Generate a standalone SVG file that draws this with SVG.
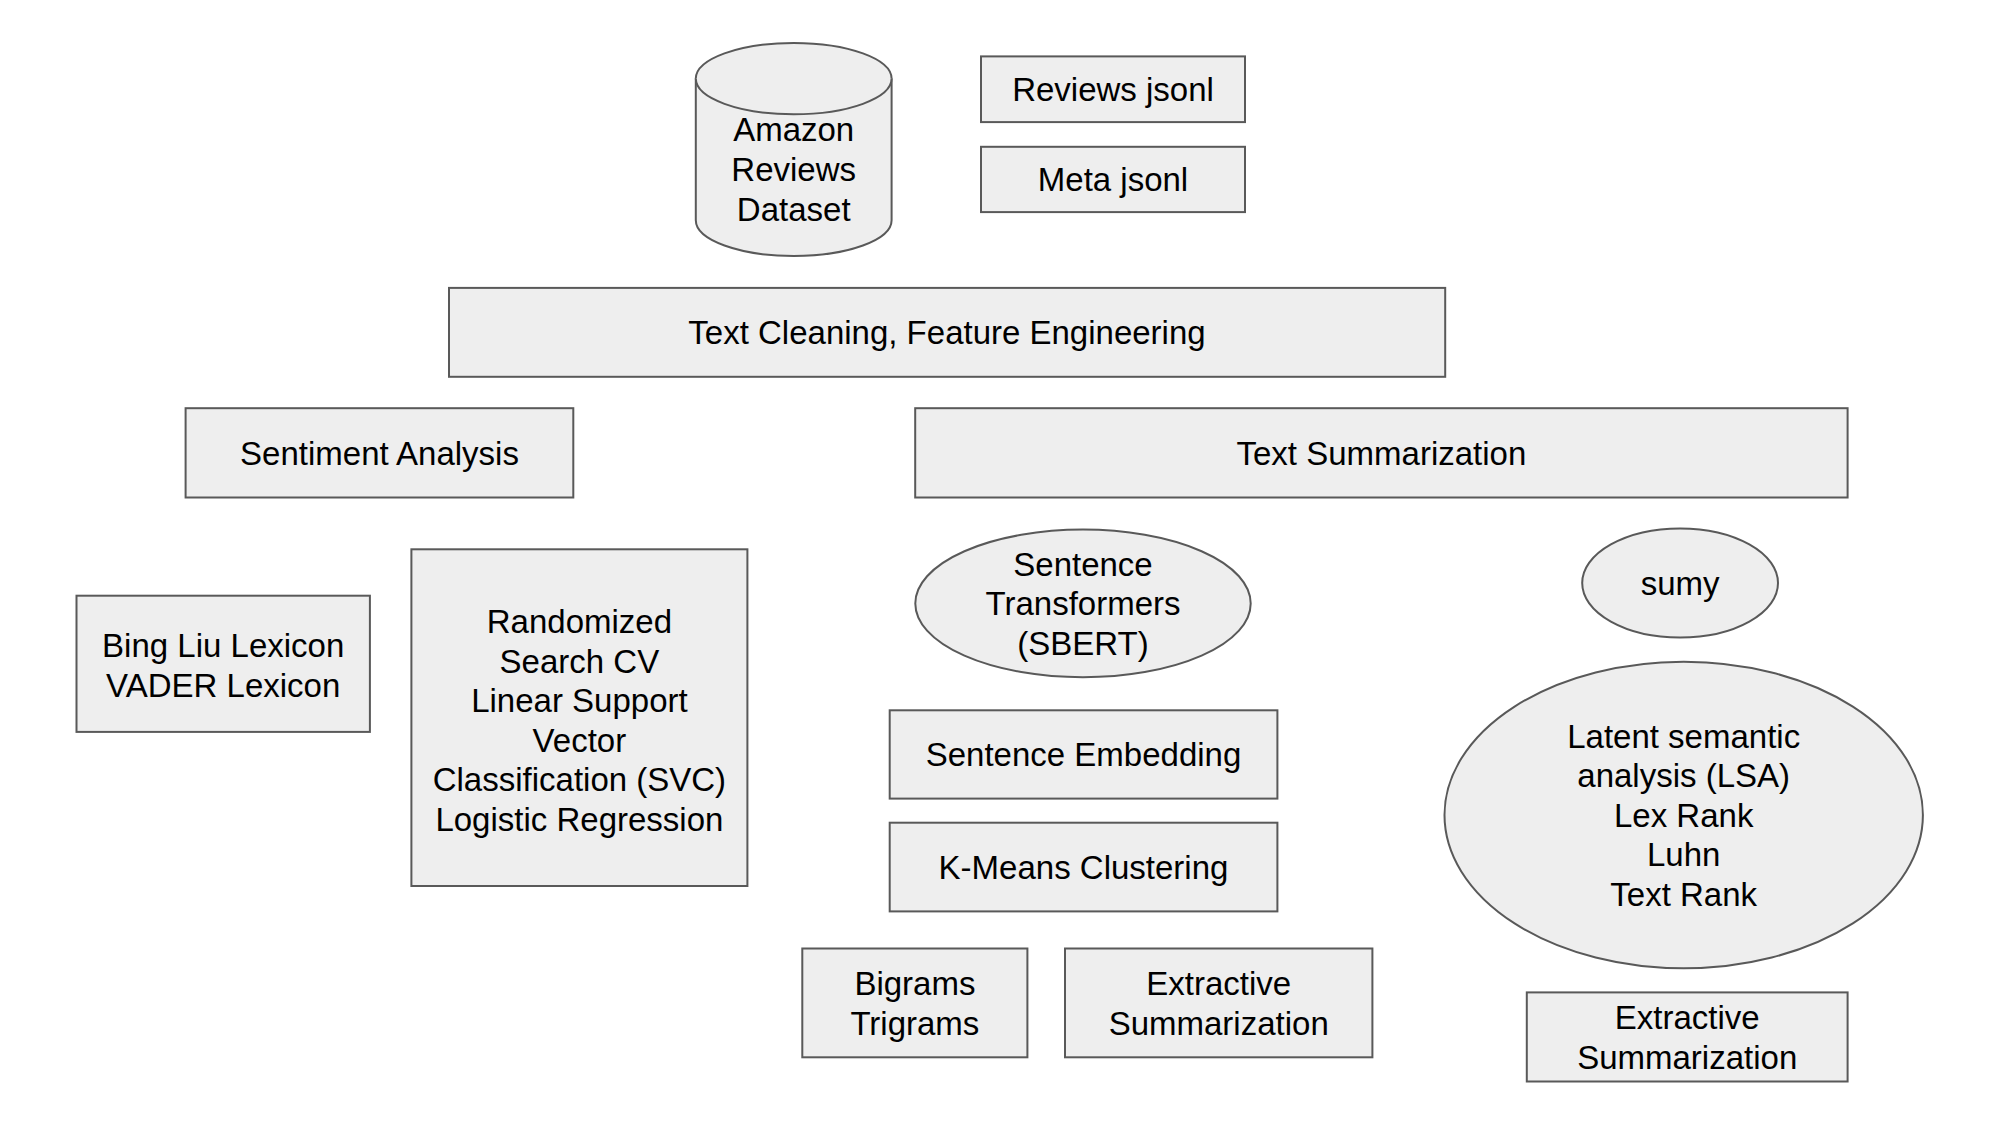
<svg xmlns="http://www.w3.org/2000/svg" width="2000" height="1125" viewBox="0 0 2000 1125">
<style>
.n{fill:#eeeeee;stroke:#595959;stroke-width:2}
.t{font-family:"Liberation Sans",Arial,sans-serif;font-size:33px;fill:#000;text-anchor:middle}
</style>
<rect width="2000" height="1125" fill="#fff"/>
<g id="connectors"></g>
<g id="amazon-dataset">
<path class="n" d="M695.8 78.6 L695.8 220.3 A97.9 35.7 0 0 0 891.6 220.3 L891.6 78.6 A97.9 35.7 0 0 0 695.8 78.6 Z"/>
<path class="n" fill="none" d="M695.8 78.6 A97.9 35.7 0 0 0 891.6 78.6"/>
<text class="t" x="793.7" y="141">Amazon</text>
<text class="t" x="793.7" y="181">Reviews</text>
<text class="t" x="793.7" y="221">Dataset</text>
</g>
<g id="reviews-jsonl">
<rect class="n" x="981" y="56.4" width="264" height="65.7"/>
<text class="t" x="1113" y="101">Reviews jsonl</text>
</g>
<g id="meta-jsonl">
<rect class="n" x="981" y="146.8" width="264" height="65.3"/>
<text class="t" x="1113" y="191">Meta jsonl</text>
</g>
<g id="text-cleaning">
<rect class="n" x="449" y="287.9" width="996.2" height="88.9"/>
<text class="t" x="947" y="344">Text Cleaning, Feature Engineering</text>
</g>
<g id="sentiment-analysis">
<rect class="n" x="185.6" y="408.2" width="387.7" height="89.3"/>
<text class="t" x="379.5" y="465">Sentiment Analysis</text>
</g>
<g id="text-summarization">
<rect class="n" x="915.2" y="408.2" width="932.4" height="89.3"/>
<text class="t" x="1381.4" y="465">Text Summarization</text>
</g>
<g id="lexicons">
<rect class="n" x="76.5" y="595.7" width="293.4" height="136.2"/>
<text class="t" x="223.2" y="657">Bing Liu Lexicon</text>
<text class="t" x="223.2" y="697">VADER Lexicon</text>
</g>
<g id="ml-models">
<rect class="n" x="411.4" y="549.3" width="336" height="336.7"/>
<text class="t" x="579.4" y="633">Randomized</text>
<text class="t" x="579.4" y="672.5">Search CV</text>
<text class="t" x="579.4" y="712">Linear Support</text>
<text class="t" x="579.4" y="751.5">Vector</text>
<text class="t" x="579.4" y="791">Classification (SVC)</text>
<text class="t" x="579.4" y="830.5">Logistic Regression</text>
</g>
<g id="sbert">
<ellipse class="n" cx="1083" cy="603.4" rx="167.7" ry="73.8"/>
<text class="t" x="1083" y="576">Sentence</text>
<text class="t" x="1083" y="615">Transformers</text>
<text class="t" x="1083" y="655">(SBERT)</text>
</g>
<g id="sumy">
<ellipse class="n" cx="1680.1" cy="583" rx="97.9" ry="54.5"/>
<text class="t" x="1680.1" y="595">sumy</text>
</g>
<g id="sentence-embedding">
<rect class="n" x="889.7" y="710.3" width="387.7" height="88.3"/>
<text class="t" x="1083.5" y="766">Sentence Embedding</text>
</g>
<g id="kmeans">
<rect class="n" x="889.7" y="822.7" width="387.7" height="88.7"/>
<text class="t" x="1083.5" y="879">K-Means Clustering</text>
</g>
<g id="ngrams">
<rect class="n" x="802.3" y="948.5" width="225.1" height="108.8"/>
<text class="t" x="914.9" y="995">Bigrams</text>
<text class="t" x="914.9" y="1034.5">Trigrams</text>
</g>
<g id="extractive-sbert">
<rect class="n" x="1065" y="948.5" width="307.4" height="108.8"/>
<text class="t" x="1218.7" y="995">Extractive</text>
<text class="t" x="1218.7" y="1034.5">Summarization</text>
</g>
<g id="sumy-methods">
<ellipse class="n" cx="1683.7" cy="815" rx="239.2" ry="153.3"/>
<text class="t" x="1683.7" y="747.6">Latent semantic</text>
<text class="t" x="1683.7" y="787.2">analysis (LSA)</text>
<text class="t" x="1683.7" y="826.8">Lex Rank</text>
<text class="t" x="1683.7" y="866.4">Luhn</text>
<text class="t" x="1683.7" y="906">Text Rank</text>
</g>
<g id="extractive-sumy">
<rect class="n" x="1526.8" y="992.4" width="320.8" height="89.1"/>
<text class="t" x="1687.2" y="1029">Extractive</text>
<text class="t" x="1687.2" y="1068.6">Summarization</text>
</g>
</svg>
